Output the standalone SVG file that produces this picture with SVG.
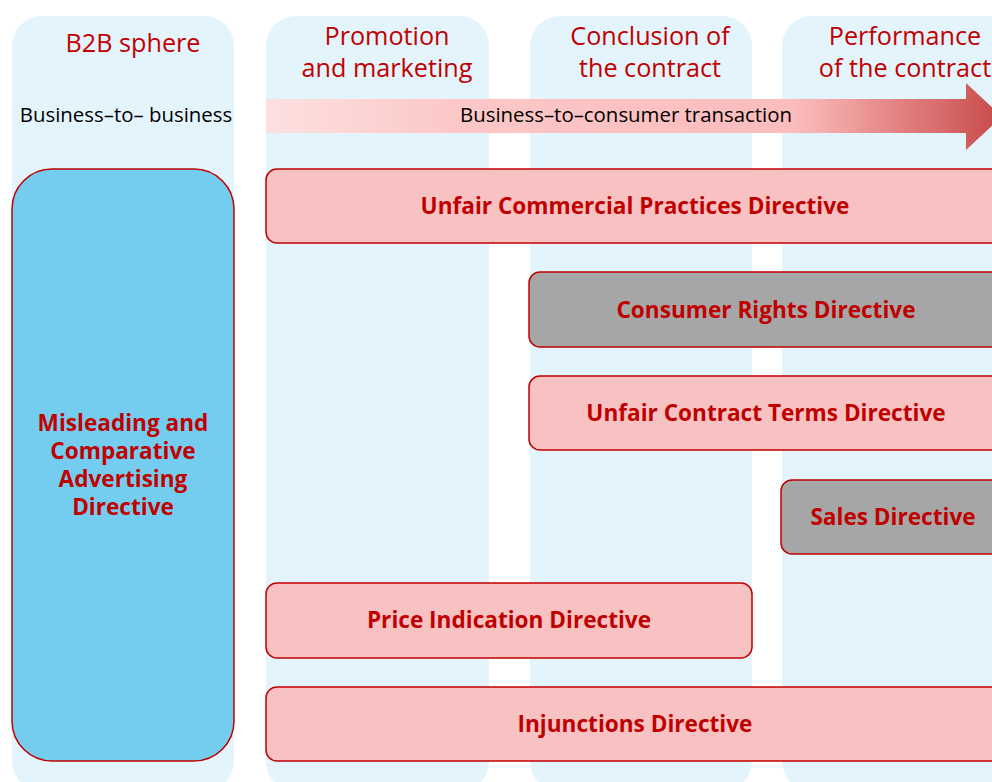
<svg xmlns="http://www.w3.org/2000/svg" width="992" height="782" viewBox="0 0 992 782">
<defs>
<linearGradient id="arrowGrad" gradientUnits="userSpaceOnUse" x1="266" y1="0" x2="1000" y2="0">
<stop offset="0" stop-color="#fde0e0"/>
<stop offset="0.25" stop-color="#fcc8c8"/>
<stop offset="0.72" stop-color="#fbbcbc"/>
<stop offset="0.8" stop-color="#ee9c9c"/>
<stop offset="1" stop-color="#c84a4a"/>
</linearGradient>
<style>
.col{fill:#e4f4fc;}
.head{font-family:"Open Sans","Liberation Sans",sans-serif;font-size:25.2px;fill:#c00000;text-anchor:middle;}
.lbl{font-family:"Open Sans","Liberation Sans",sans-serif;font-size:20.4px;fill:#000;text-anchor:middle;}
.box{stroke:#c00000;stroke-width:1.5;}
.pink{fill:#f9c2c2;}
.grey{fill:#a6a6a6;}
.blue{fill:#74cdef;}
.bt{font-family:"Open Sans","Liberation Sans",sans-serif;font-size:22.6px;font-weight:bold;fill:#c00000;text-anchor:middle;}
</style>
</defs>
<rect width="992" height="782" fill="#ffffff"/>
<g id="columns">
<rect class="col" x="12" y="16" width="222" height="775" rx="30"/>
<rect class="col" x="266" y="16" width="223" height="775" rx="30"/>
<rect class="col" x="530" y="16" width="222" height="775" rx="30"/>
<rect class="col" x="782" y="16" width="240" height="775" rx="30"/>
</g>
<g id="headers">
<text class="head" x="133" y="52">B2B sphere</text>
<text class="head" x="387" y="45">Promotion</text>
<text class="head" x="387" y="77">and marketing</text>
<text class="head" x="650" y="45">Conclusion of</text>
<text class="head" x="650" y="77">the contract</text>
<text class="head" x="905" y="45">Performance</text>
<text class="head" x="905" y="77">of the contract</text>
</g>
<g id="b2b-label">
<text class="lbl" x="126" y="122">Business–to– business</text>
</g>
<g id="connectors">
<path d="M266,99 L966,99 L966,83 L1002,116.5 L966,150 L966,133 L266,133 Z" fill="url(#arrowGrad)"/>
<text class="lbl" x="626" y="122">Business–to–consumer transaction</text>
</g>
<g id="misleading">
<rect class="box blue" x="12" y="169" width="222" height="592" rx="40"/>
<text class="bt" x="123" y="431">Misleading and</text>
<text class="bt" x="123" y="459">Comparative</text>
<text class="bt" x="123" y="487">Advertising</text>
<text class="bt" x="123" y="515">Directive</text>
</g>
<g id="ucpd">
<rect class="box pink" x="266" y="169" width="740" height="74" rx="11"/>
<text class="bt" x="635" y="214">Unfair Commercial Practices Directive</text>
</g>
<g id="crd">
<rect class="box grey" x="529" y="272" width="477" height="75" rx="11"/>
<text class="bt" x="766" y="318">Consumer Rights Directive</text>
</g>
<g id="uctd">
<rect class="box pink" x="529" y="376" width="477" height="74" rx="11"/>
<text class="bt" x="766" y="421">Unfair Contract Terms Directive</text>
</g>
<g id="sales">
<rect class="box grey" x="781" y="480" width="225" height="74" rx="11"/>
<text class="bt" x="893" y="525">Sales Directive</text>
</g>
<g id="pid">
<rect class="box pink" x="266" y="583" width="486" height="75" rx="11"/>
<text class="bt" x="509" y="628">Price Indication Directive</text>
</g>
<g id="injunctions">
<rect class="box pink" x="266" y="687" width="740" height="74" rx="11"/>
<text class="bt" x="635" y="732">Injunctions Directive</text>
</g>
</svg>
